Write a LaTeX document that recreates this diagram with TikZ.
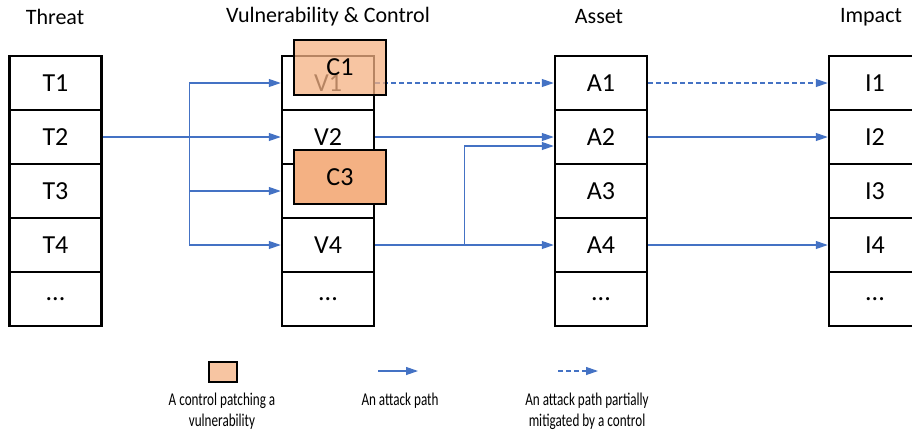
\documentclass[tikz,border=0pt]{standalone}
\usepackage{fontspec}
\setmainfont{Carlito}
\newfontfamily\legendfont[FakeStretch=0.73]{Carlito}
\usetikzlibrary{arrows.meta}
\definecolor{pathblue}{HTML}{4472C4}
\definecolor{patchorange}{HTML}{F4B183}
\tikzset{
  cell/.style={draw, line width=2.5pt, minimum width=92pt, minimum height=54pt,
    inner sep=0pt, font=\fontsize{26}{30}\selectfont},
  control/.style={cell, fill=patchorange},
  heading/.style={font=\fontsize{22}{26}\selectfont},
  attack/.style={draw=pathblue, line width=1.2pt, -{Triangle[length=12pt,width=8pt]}},
  mitigated/.style={attack, dash pattern=on 5pt off 3pt},
  legend/.style={font=\legendfont\fontsize{18}{21}\selectfont, align=center},
}
\begin{document}
\begin{tikzpicture}[x=1pt,y=-1pt]
  \useasboundingbox (0,0) rectangle (912,434);

  % column headings
  \node (threat)   at (55,17)  [heading] {Threat};
  \node (vulnctrl) at (328,17) [heading] {Vulnerability \& Control};
  \node (asset)    at (599,17) [heading] {Asset};
  \node (impact)   at (871,17) [heading] {Impact};

  % threats
  \node (t1) at (55.5,83)  [cell] {T1};
  \node (t2) at (55.5,137) [cell] {T2};
  \node (t3) at (55.5,191) [cell] {T3};
  \node (t4) at (55.5,245) [cell] {T4};
  \node (t5) at (55.5,299) [cell] {...};

  % vulnerabilities
  \node (v1) at (328,83)  [cell] {V1};
  \node (v2) at (328,137) [cell] {V2};
  \node (v3) at (328,191) [cell] {};
  \node (v4) at (328,245) [cell] {V4};
  \node (v5) at (328,299) [cell] {...};

  % assets
  \node (a1) at (601,83)  [cell] {A1};
  \node (a2) at (601,137) [cell] {A2};
  \node (a3) at (601,191) [cell] {A3};
  \node (a4) at (601,245) [cell] {A4};
  \node (a5) at (601,299) [cell] {...};

  % impacts
  \node (i1) at (875,83)  [cell] {I1};
  \node (i2) at (875,137) [cell] {I2};
  \node (i3) at (875,191) [cell] {I3};
  \node (i4) at (875,245) [cell] {I4};
  \node (i5) at (875,299) [cell] {...};

  % attack paths
  \coordinate (fork) at ([xshift=87pt]t2.east);
  \draw[pathblue, line width=1.2pt] (t2.east) -- (fork);
  \draw[attack] (fork) |- (v1.west);
  \draw[attack] (fork) -- (v2.west);
  \draw[attack] (fork) |- (v3.west);
  \draw[attack] (fork) |- (v4.west);

  \coordinate (join) at ([xshift=89pt]v4.east);
  \draw[mitigated] (v1.east) -- (a1.west);
  \draw[attack] (v2.east) -- (a2.west);
  \draw[attack] (v4.east) -- (a4.west);
  \draw[attack] (join) |- ([yshift=-9pt]a2.west);

  \draw[mitigated] (a1.east) -- (i1.west);
  \draw[attack] (a2.east) -- (i2.west);
  \draw[attack] (a4.east) -- (i4.west);

  % controls
  \node (c1) at (340,67.5) [control, minimum height=55pt, fill opacity=0.75, text opacity=1] {C1};
  \node (c3) at (340,177)  [control] {C3};

  % legend
  \node (keyctrl) at (223,372) [draw, line width=2.5pt, fill=patchorange, fill opacity=0.75,
    minimum width=28pt, minimum height=20pt, inner sep=0pt] {};
  \node (keyctrltext) at (222,411) [legend] {A control patching a\\vulnerability};

  \coordinate (keypath1) at (378,371);
  \coordinate (keypath2) at (418,371);
  \draw[attack] (keypath1) -- (keypath2);
  \node (keypathtext) at (400,401) [legend] {An attack path};

  \coordinate (keypart1) at (558,371);
  \coordinate (keypart2) at (598,371);
  \draw[mitigated] (keypart1) -- (keypart2);
  \node (keyparttext) at (587,411) [legend] {An attack path partially\\mitigated by a control};
\end{tikzpicture}
\end{document}
